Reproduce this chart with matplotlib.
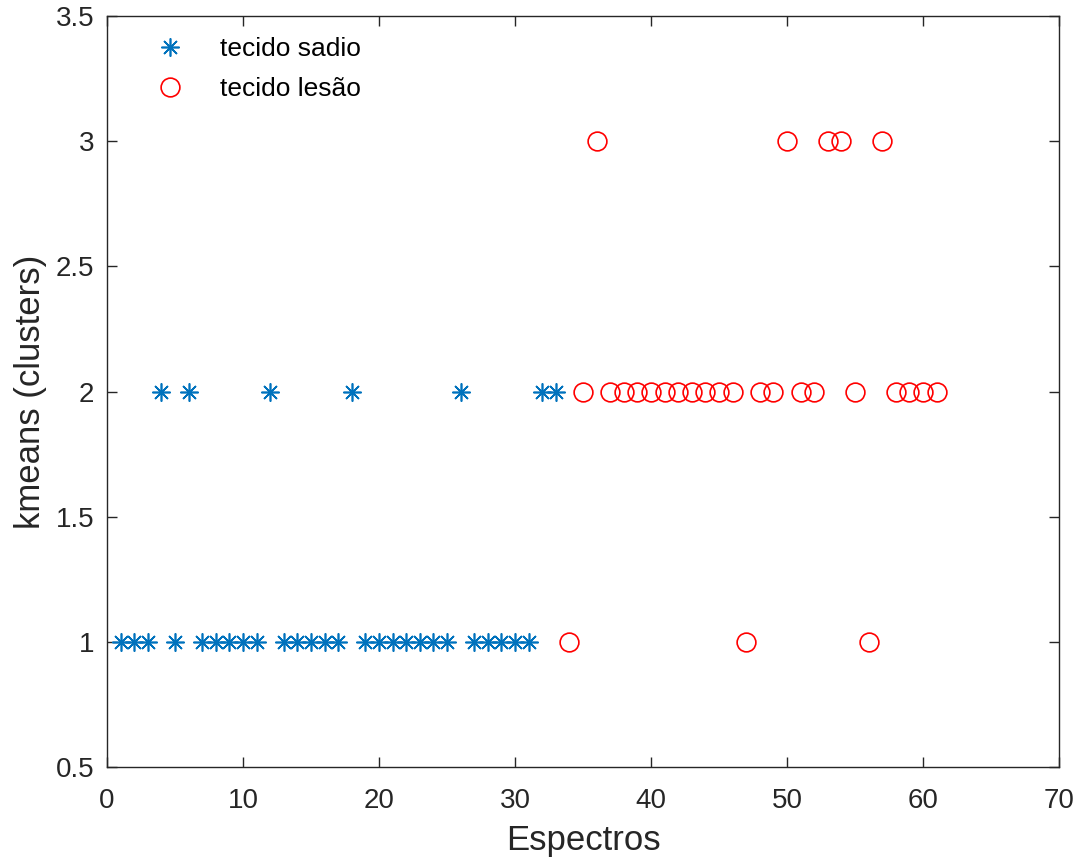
import matplotlib
matplotlib.use("Agg")
import matplotlib.pyplot as plt

# spectrum index and k-means cluster assignment
sadio_x = list(range(1, 34))
sadio_y = [1, 1, 1, 2, 1, 2, 1, 1, 1, 1, 1, 2, 1, 1, 1, 1, 1, 2, 1, 1,
           1, 1, 1, 1, 1, 2, 1, 1, 1, 1, 1, 2, 2]

lesao_x = list(range(34, 62))
lesao_y = [1, 2, 3, 2, 2, 2, 2, 2, 2, 2, 2, 2, 2, 1, 2, 2, 3, 2, 2, 3,
           3, 2, 1, 3, 2, 2, 2, 2]

plt.rcParams['font.family'] = ['Liberation Sans', 'DejaVu Sans']

fig = plt.figure(figsize=(10.82, 8.61), dpi=100)
ax = fig.add_axes([107 / 1082, 1 - 767 / 861, 952 / 1082, 751 / 861])

ax.plot(sadio_x, sadio_y, linestyle='none', marker=(8, 2, 0), markersize=13,
        color='#0072BD', markeredgewidth=1.2, label='tecido sadio')
ax.plot(lesao_x, lesao_y, linestyle='none', marker='o', markersize=13.5,
        markerfacecolor='none', markeredgecolor='#FF0000', markeredgewidth=1.2,
        label='tecido lesão')

ax.set_xlim(0, 70)
ax.set_ylim(0.5, 3.5)
ax.set_xticks(range(0, 71, 10))
ax.set_yticks([0.5, 1, 1.5, 2, 2.5, 3, 3.5])
ax.set_yticklabels(['0.5', '1', '1.5', '2', '2.5', '3', '3.5'])
ax.tick_params(direction='in', top=True, right=True, length=7.5, width=1,
               labelsize=20, colors='#262626')
ax.tick_params(axis='x', pad=15)
ax.tick_params(axis='y', pad=9)
for s in ax.spines.values():
    s.set_color('#262626')
    s.set_linewidth(1)

ax.set_xlabel('Espectros', fontsize=25, color='#262626', labelpad=7)
ax.set_ylabel('kmeans (clusters)', fontsize=25, color='#262626', labelpad=6.5)

ax.legend(loc='upper left', frameon=False, fontsize=19, handletextpad=0.9,
          borderaxespad=0.0, bbox_to_anchor=(0.027, 0.986), labelspacing=0.6)

fig.savefig('out.png', dpi=100)
